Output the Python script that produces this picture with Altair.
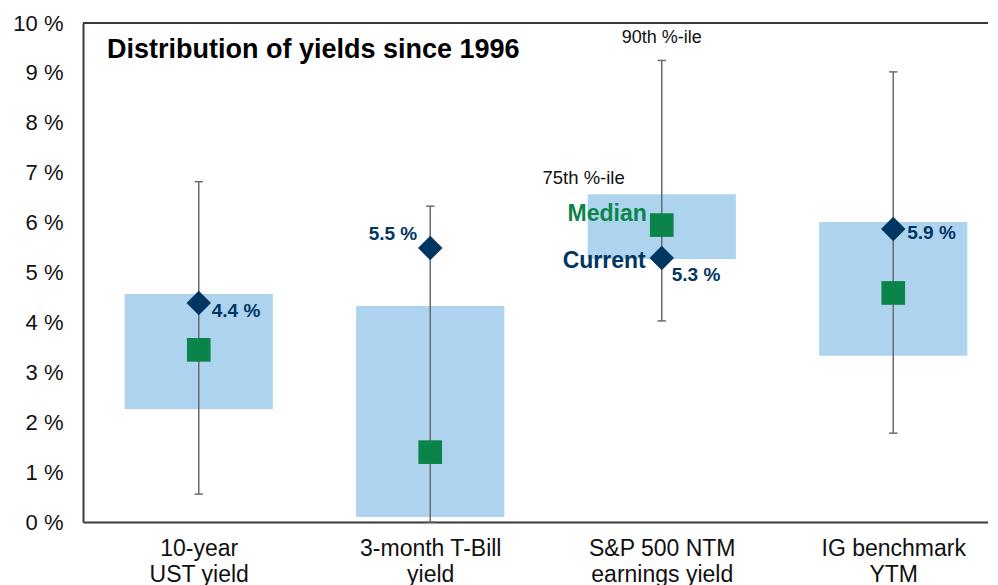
import altair as alt
import pandas as pd

# ---- data ----
cat_line1 = ["10-year", "3-month T-Bill", "S&P 500 NTM", "IG benchmark"]
cat_line2 = ["UST yield", "yield", "earnings yield", "YTM"]
p10 = [0.56, 0.0, 4.03, 1.78]
p25 = [2.26, 0.10, 5.27, 3.33]
median = [3.45, 1.40, 5.95, 4.59]
p75 = [4.57, 4.33, 6.57, 6.01]
p90 = [6.82, 6.33, 9.25, 9.02]
current = [4.39, 5.49, 5.29, 5.87]
current_label = ["4.4 %", "5.5 %", "5.3 %", "5.9 %"]
ytick_values = list(range(0, 11))

# ---- layout / style ----
W, H = 905, 499
XMAX = W / 231.5
BOX_HALF = 0.32
CAP_HALF = 0.018
BLUE = "#AED3EF"
GREEN = "#0A8448"
NAVY = "#003662"
GREY = "#6B6B6B"
AXIS = "#3A3A3A"
FONT = "Liberation Sans"

pos = [i + 0.5 for i in range(len(cat_line1))]
df = pd.DataFrame({
    "pos": pos,
    "l1": cat_line1,
    "l2": cat_line2,
    "p10": p10, "p25": p25, "median": median, "p75": p75, "p90": p90,
    "current": current, "clabel": current_label,
})
df["left"] = df["pos"] - BOX_HALF
df["right"] = df["pos"] + BOX_HALF
df["capl"] = df["pos"] - CAP_HALF
df["capr"] = df["pos"] + CAP_HALF

label_expr = " : ".join(
    f"datum.value == {p} ? ['{a}', '{b}']" for p, a, b in zip(pos, cat_line1, cat_line2)
) + " : ''"

xscale = alt.Scale(domain=[0, XMAX], nice=False, zero=False)
yscale = alt.Scale(domain=[0, 10], nice=False)

base = alt.Chart(df)

x_axis = alt.Axis(values=pos, labelExpr=label_expr, title=None, ticks=False, grid=False,
                  labelPadding=15, labelFontSize=23, labelLineHeight=26, labelFont=FONT,
                  labelColor="#111", domainColor=AXIS, domainWidth=2, labelAngle=0)
y_axis = alt.Axis(values=ytick_values, labelExpr="datum.value + ' %'", title=None, ticks=False,
                  grid=False, labelPadding=20, labelFontSize=22, labelFont=FONT,
                  labelColor="#111", domainColor=AXIS, domainWidth=2)

boxes = base.mark_rect(color=BLUE).encode(
    x=alt.X("left:Q", scale=xscale, axis=x_axis), x2="right:Q",
    y=alt.Y("p25:Q", scale=yscale, axis=y_axis), y2="p75:Q")

whisker = base.mark_rule(color=GREY, strokeWidth=1.5).encode(
    x="pos:Q", y="p10:Q", y2="p90:Q")
cap_lo = base.mark_rule(color=GREY, strokeWidth=1.5).encode(x="capl:Q", x2="capr:Q", y="p10:Q")
cap_hi = base.mark_rule(color=GREY, strokeWidth=1.5).encode(x="capl:Q", x2="capr:Q", y="p90:Q")

med = base.mark_point(shape="square", filled=True, size=560, color=GREEN, opacity=1).encode(
    x="pos:Q", y="median:Q")
cur = base.mark_point(shape="diamond", filled=True, size=600, color=NAVY, opacity=1).encode(
    x="pos:Q", y="current:Q")

top_frame = alt.Chart(pd.DataFrame({"a": [0]})).mark_rule(color=AXIS, strokeWidth=2).encode(
    x=alt.datum(0), x2=alt.datum(XMAX), y=alt.datum(10))

# value labels next to current diamonds (align, dx, dy per category)
label_style = [("left", 13, 8), ("right", -13, -14), ("left", 10, 17), ("left", 14, 4)]
val_layers = []
for i, (al, dx, dy) in enumerate(label_style):
    val_layers.append(
        base.transform_filter(alt.datum.pos == pos[i]).mark_text(
            align=al, baseline="middle", dx=dx, dy=dy, font=FONT, fontWeight="bold",
            fontSize=19, color=NAVY).encode(x="pos:Q", y="current:Q", text="clabel:N"))

sp = base.transform_filter(alt.datum.pos == pos[2])
ann90 = sp.mark_text(align="center", baseline="middle", dy=-22, font=FONT, fontSize=18,
                     color="#111").encode(x="pos:Q", y="p90:Q", text=alt.value("90th %-ile"))
ann75 = sp.mark_text(align="right", baseline="middle", dx=-37, dy=-16, font=FONT, fontSize=18.5,
                     color="#111").encode(x="pos:Q", y="p75:Q", text=alt.value("75th %-ile"))
annmed = sp.mark_text(align="right", baseline="middle", dx=-15, dy=-11, font=FONT, fontSize=23,
                      fontWeight="bold", color=GREEN).encode(x="pos:Q", y="median:Q",
                                                             text=alt.value("Median"))
anncur = sp.mark_text(align="right", baseline="middle", dx=-16, dy=3, font=FONT, fontSize=23,
                      fontWeight="bold", color=NAVY).encode(x="pos:Q", y="current:Q",
                                                            text=alt.value("Current"))

chart = alt.layer(
    boxes, whisker, cap_lo, cap_hi, med, cur, top_frame, *val_layers,
    ann90, ann75, annmed, anncur,
).properties(
    width=W, height=H,
    title=alt.TitleParams("Distribution of yields since 1996", anchor="start", frame="group",
                          font=FONT, fontSize=27, fontWeight="bold", color="#000",
                          dx=24, dy=52, offset=0),
    autosize=alt.AutoSizeParams(type="none"),
    padding={"left": 75, "top": 15, "right": 0, "bottom": 70},
).configure_view(stroke=None)

chart.save("out.html", embed_options={"renderer": "svg", "actions": False})
